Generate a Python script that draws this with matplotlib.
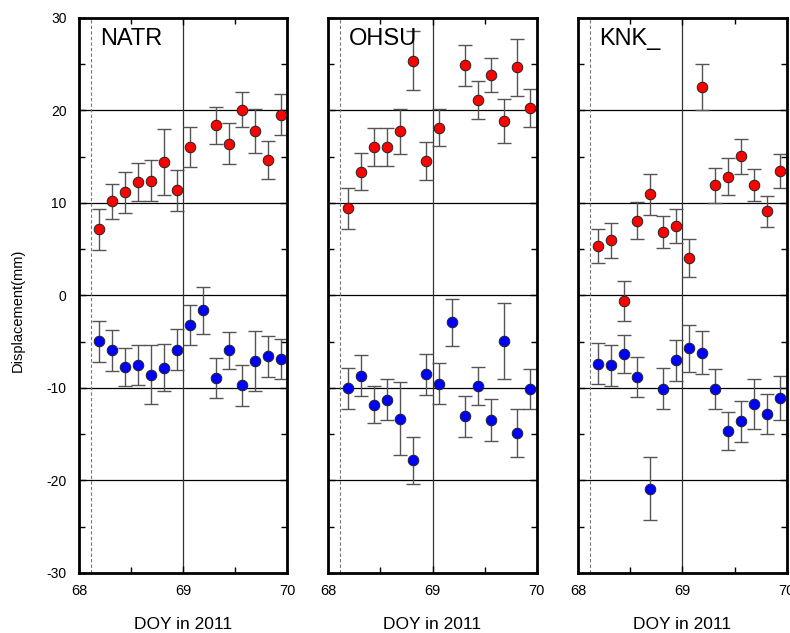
import numpy as np
import matplotlib
matplotlib.use("Agg")
import matplotlib.pyplot as plt
from matplotlib.ticker import MultipleLocator

plt.rcParams['font.family'] = ['Liberation Sans', 'DejaVu Sans']

# epochs (DOY 2011), 3-hour windows
doy = [68.1875, 68.3125, 68.4375, 68.5625, 68.6875, 68.8125, 68.9375, 69.0625,
       69.1875, 69.3125, 69.4375, 69.5625, 69.6875, 69.8125, 69.9375]
event_doy = 68.115

stations = ["NATR", "OHSU", "KNK_"]

natr_red = [7.14, 10.2, 11.17, 12.25, 12.4, 14.41, 11.35, 16.04, np.nan, 18.38, 16.43, 20.1, 17.8, 14.67, 19.53]
natr_red_err = [2.2, 1.9, 2.2, 2.05, 2.2, 3.6, 2.2, 2.2, np.nan, 2.0, 2.2, 1.9, 2.35, 2.05, 2.2]
natr_blue = [-4.95, -5.92, -7.73, -7.5, -8.56, -7.8, -5.85, -3.18, -1.62, -8.92, -5.92, -9.71, -7.08, -6.57, -6.86]
natr_blue_err = [2.2, 2.2, 2.05, 2.2, 3.2, 2.55, 2.2, 2.2, 2.55, 2.2, 2.0, 2.2, 3.2, 2.2, 2.2]

ohsu_red = [9.41, 13.4, 16.07, 16.04, 17.73, 25.37, 14.56, 18.16, np.nan, 24.9, 21.12, 23.82, 18.85, 24.65, 20.25]
ohsu_red_err = [2.2, 2.05, 2.05, 2.05, 2.4, 3.2, 2.05, 2.05, np.nan, 2.2, 2.05, 1.85, 2.4, 3.05, 2.05]
ohsu_blue = [-10.04, -8.66, -11.8, -11.26, -13.32, -17.83, -8.52, -9.53, -2.89, -13.07, -9.82, -13.43, -4.91, -14.87, -10.11]
ohsu_blue_err = [2.2, 2.2, 2.0, 2.2, 3.95, 2.55, 2.2, 2.2, 2.55, 2.2, 2.05, 2.25, 4.1, 2.55, 2.2]

knk_red = [5.33, 5.95, -0.6, 8.07, 10.95, 6.85, 7.53, 4.04, 22.52, 11.93, 12.86, 15.06, 11.93, 9.08, 13.48]
knk_red_err = [1.85, 1.9, 2.2, 2.0, 2.2, 1.7, 1.85, 2.05, 2.5, 1.9, 2.05, 1.9, 1.7, 1.7, 1.85]
knk_blue = [-7.36, -7.55, -6.32, -8.81, -20.87, -10.07, -7.0, -5.7, -6.17, -10.11, -14.62, -13.61, -11.73, -12.82, -11.08]
knk_blue_err = [2.2, 2.2, 2.05, 2.2, 3.4, 2.2, 2.2, 2.55, 2.35, 2.2, 2.05, 2.2, 2.7, 2.2, 2.4]

data = [
    (natr_red, natr_red_err, natr_blue, natr_blue_err),
    (ohsu_red, ohsu_red_err, ohsu_blue, ohsu_blue_err),
    (knk_red, knk_red_err, knk_blue, knk_blue_err),
]

x_ticks = [68, 69, 70]
y_ticks = [-30, -20, -10, 0, 10, 20, 30]

fig = plt.figure(figsize=(7.9, 6.33), dpi=100)
lefts = [0.1, 0.4156, 0.732]
bottom, width, height = 0.0948, 0.2638, 0.8768

for i, (name, (r, re, b, be)) in enumerate(zip(stations, data)):
    ax = fig.add_axes([lefts[i], bottom, width, height])
    ax.set_xlim(68, 70)
    ax.set_ylim(-30, 30)
    for yv in [-20, -10, 0, 10, 20]:
        ax.axhline(yv, color='black', lw=0.9, zorder=1)
    ax.axvline(69, color='#333333', lw=0.9, zorder=1)
    ax.axvline(event_doy, color='#777777', lw=0.8, ls=(0, (3, 2)), zorder=1)

    for vals, errs, col in [(r, re, '#ff0000'), (b, be, '#0000ff')]:
        ax.errorbar(doy, vals, yerr=errs, fmt='none', ecolor='#555555',
                    elinewidth=1.0, capsize=5, capthick=1.0, zorder=2)
        ax.plot(doy, vals, 'o', color=col, markersize=7.6,
                markeredgecolor='#222222', markeredgewidth=0.7, zorder=3)

    ax.text(0.1, 0.982, name, transform=ax.transAxes, fontsize=17,
            ha='left', va='top')

    for sp in ax.spines.values():
        sp.set_linewidth(2.0)

    ax.set_xticks(x_ticks)
    ax.set_xticklabels([str(t) for t in x_ticks], fontsize=10.5)
    ax.xaxis.set_minor_locator(MultipleLocator(0.5))
    ax.yaxis.set_minor_locator(MultipleLocator(5))
    ax.set_yticks(y_ticks)
    ax.tick_params(which='both', direction='in', top=True, right=True)
    ax.tick_params(which='major', length=5, width=1)
    ax.tick_params(which='minor', length=4, width=1)
    ax.tick_params(axis='x', pad=8)
    if i == 0:
        ax.set_yticklabels([str(t) for t in y_ticks], fontsize=10)
        ax.tick_params(axis='y', pad=9)
    else:
        ax.set_yticklabels([])
    ax.set_xlabel("DOY in 2011", fontsize=12.5, va='center')
    ax.xaxis.set_label_coords(0.5, -52 / 555.0)

fig.text(18 / 790.0, 1 - 310 / 633.0, "Displacement(mm)", rotation=90,
         fontsize=10.5, ha='center', va='center')

fig.savefig("out.png", dpi=100)
